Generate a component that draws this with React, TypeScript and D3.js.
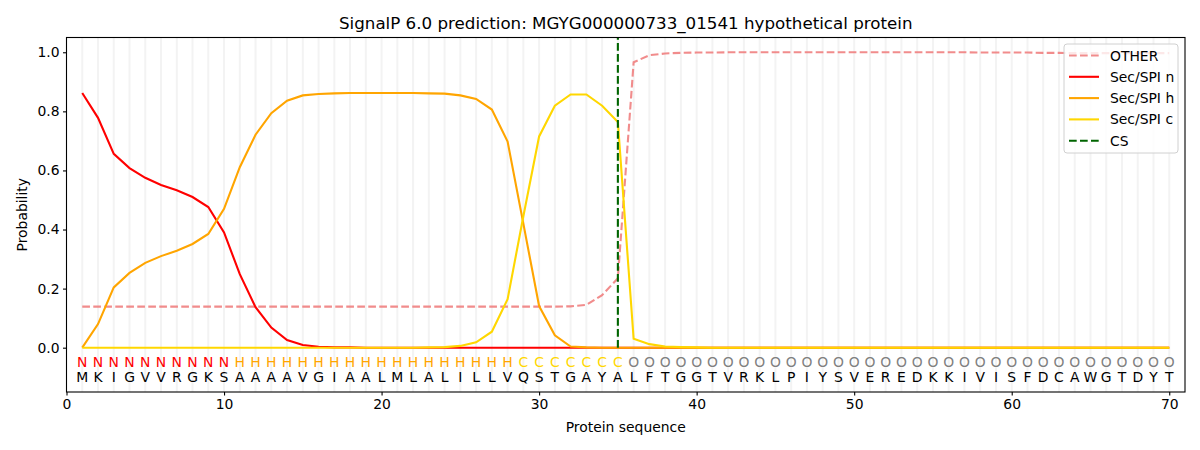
import { useEffect, useRef } from 'react';
import * as d3 from 'd3';

const sequence = 'MKIGVVRGKSAAAAVGIAALMLALILLVQSTGAYALFTGGTVRKLPIYSVEREDKKIVISFDCAWGTDYT'.split('');
const regions = 'NNNNNNNNNNHHHHHHHHHHHHHHHHHHCCCCCCCOOOOOOOOOOOOOOOOOOOOOOOOOOOOOOOOOOO'.split('');

const other = [
  0.139, 0.139, 0.139, 0.139, 0.139, 0.139, 0.139, 0.139, 0.139, 0.139,
  0.139, 0.139, 0.139, 0.139, 0.139, 0.139, 0.139, 0.139, 0.139, 0.139,
  0.139, 0.139, 0.139, 0.139, 0.139, 0.139, 0.139, 0.139, 0.139, 0.139,
  0.139, 0.14, 0.145, 0.178, 0.235, 0.966, 0.99, 0.996, 0.998, 0.999,
  0.999, 1.0, 1.0, 1.0, 1.0, 1.0, 1.0, 1.0, 1.0, 1.0,
  1.0, 1.0, 1.0, 1.0, 1.0, 1.0, 1.0, 0.999, 0.999, 0.999,
  0.999, 0.998, 0.998, 0.997, 0.997, 0.997, 0.997, 0.997, 0.997, 0.997,
];
const secN = [
  0.862, 0.778, 0.656, 0.608, 0.575, 0.551, 0.533, 0.51, 0.476, 0.39,
  0.249, 0.137, 0.068, 0.026, 0.009, 0.003, 0.001, 0.001, 0, 0,
  0, 0, 0, 0, 0, 0, 0, 0, 0, 0,
  0, 0, 0, 0, 0, 0, 0, 0, 0, 0,
  0, 0, 0, 0, 0, 0, 0, 0, 0, 0,
  0, 0, 0, 0, 0, 0, 0, 0, 0, 0,
  0, 0, 0, 0, 0, 0, 0, 0, 0, 0,
];
const secH = [
  0.0, 0.08, 0.204, 0.253, 0.287, 0.31, 0.328, 0.351, 0.385, 0.47,
  0.611, 0.721, 0.794, 0.836, 0.854, 0.859, 0.861, 0.862, 0.862, 0.862,
  0.862, 0.862, 0.861, 0.86, 0.854, 0.842, 0.806, 0.698, 0.42, 0.141,
  0.042, 0.004, 0.001, 0, 0, 0, 0, 0, 0, 0,
  0, 0, 0, 0, 0, 0, 0, 0, 0, 0,
  0, 0, 0, 0, 0, 0, 0, 0, 0, 0,
  0, 0, 0, 0, 0, 0, 0, 0, 0, 0,
];
const secC = [
  0, 0, 0, 0, 0, 0, 0, 0, 0, 0,
  0, 0, 0, 0, 0, 0, 0, 0, 0, 0,
  0, 0, 0.001, 0.002, 0.006, 0.018, 0.054, 0.164, 0.445, 0.715,
  0.819, 0.857, 0.857, 0.819, 0.764, 0.03, 0.012, 0.004, 0.002, 0.001,
  0, 0, 0, 0, 0, 0, 0, 0, 0, 0,
  0, 0, 0, 0, 0, 0, 0, 0, 0, 0,
  0, 0, 0, 0, 0, 0, 0, 0, 0, 0,
];
const cleavageSite = 35;
const yTicks = [0, 0.2, 0.4, 0.6, 0.8, 1.0];
const xTicks = [0, 10, 20, 30, 40, 50, 60, 70];

const regionColor: Record<string, string> = { N: 'red', H: 'orange', C: 'gold', O: 'grey' };

const series = [
  { name: 'OTHER', values: other, color: 'lightcoral', dash: '7.7,3.3' },
  { name: 'Sec/SPI n', values: secN, color: 'red', dash: '' },
  { name: 'Sec/SPI h', values: secH, color: 'orange', dash: '' },
  { name: 'Sec/SPI c', values: secC, color: 'gold', dash: '' },
];

export default function App() {
  const svgRef = useRef<SVGSVGElement>(null);
  const width = 1200;
  const height = 450;

  useEffect(() => {
    if (!svgRef.current) return;
    const svg = d3.select(svgRef.current);
    svg.selectAll('*').remove();

    const margin = { top: 37.5, right: 15, bottom: 58, left: 66.5 };
    const x = d3.scaleLinear().domain([0, 71]).range([margin.left, width - margin.right]);
    const y = d3.scaleLinear().domain([-0.15, 1.05]).range([height - margin.bottom, margin.top]);
    const font = 'DejaVu Sans, sans-serif';

    svg.append('rect').attr('width', width).attr('height', height).attr('fill', '#fff');

    // grid per residue
    svg.append('g')
      .selectAll('line')
      .data(d3.range(1, sequence.length + 1))
      .enter()
      .append('line')
      .attr('x1', d => x(d)).attr('x2', d => x(d))
      .attr('y1', y.range()[0]).attr('y2', y.range()[1])
      .attr('stroke', '#f3f3f3')
      .attr('stroke-width', 2);

    const line = d3.line<number>()
      .x((_, i) => x(i + 1))
      .y(d => y(d));

    series.forEach(s => {
      svg.append('path')
        .datum(s.values)
        .attr('d', line)
        .attr('fill', 'none')
        .attr('stroke', s.color)
        .attr('stroke-width', 2.1)
        .attr('stroke-dasharray', s.dash || null)
        .attr('opacity', s.name === 'OTHER' ? 0.9 : 1);
    });

    // cleavage site
    svg.append('line')
      .attr('x1', x(cleavageSite)).attr('x2', x(cleavageSite))
      .attr('y1', y(0)).attr('y2', y(1.05))
      .attr('stroke', 'darkgreen')
      .attr('stroke-width', 2.1)
      .attr('stroke-dasharray', '7.7,3.3');

    // residue labels
    const labels = svg.append('g').attr('font-family', font).attr('font-size', 13.9).attr('text-anchor', 'middle');
    regions.forEach((r, i) => {
      labels.append('text')
        .attr('x', x(i + 1)).attr('y', y(-0.05))
        .attr('dy', '0.36em')
        .attr('fill', regionColor[r])
        .text(r);
    });
    sequence.forEach((a, i) => {
      labels.append('text')
        .attr('x', x(i + 1)).attr('y', y(-0.1))
        .attr('dy', '0.36em')
        .attr('fill', '#000')
        .text(a);
    });

    // axes
    const xAxis = svg.append('g')
      .attr('transform', `translate(0,${y.range()[0]})`)
      .call(d3.axisBottom(x).tickValues(xTicks).tickSize(3.5).tickPadding(3.5).tickFormat(d3.format('d')));
    const yAxis = svg.append('g')
      .attr('transform', `translate(${margin.left},0)`)
      .call(d3.axisLeft(y).tickValues(yTicks).tickSize(3.5).tickPadding(3.5).tickFormat(d3.format('.1f')));
    [xAxis, yAxis].forEach(a => {
      a.select('.domain').remove();
      a.selectAll('text').attr('font-family', font).attr('font-size', 13.9).attr('fill', '#000');
      a.selectAll('line').attr('stroke', '#000').attr('stroke-width', 1.1);
    });

    svg.append('rect')
      .attr('x', x.range()[0]).attr('y', y.range()[1])
      .attr('width', x.range()[1] - x.range()[0])
      .attr('height', y.range()[0] - y.range()[1])
      .attr('fill', 'none')
      .attr('stroke', '#000')
      .attr('stroke-width', 1.1);

    // titles
    svg.append('text')
      .attr('x', (x.range()[0] + x.range()[1]) / 2).attr('y', 29)
      .attr('text-anchor', 'middle')
      .attr('font-family', font).attr('font-size', 16.7)
      .text('SignalP 6.0 prediction: MGYG000000733_01541 hypothetical protein');
    svg.append('text')
      .attr('x', (x.range()[0] + x.range()[1]) / 2).attr('y', 432)
      .attr('text-anchor', 'middle')
      .attr('font-family', font).attr('font-size', 13.9)
      .text('Protein sequence');
    svg.append('text')
      .attr('transform', `translate(27,${(y.range()[0] + y.range()[1]) / 2}) rotate(-90)`)
      .attr('text-anchor', 'middle')
      .attr('font-family', font).attr('font-size', 13.9)
      .text('Probability');

    // legend
    const legendItems = [...series, { name: 'CS', color: 'darkgreen', dash: '7.7,3.3' }];
    const lg = svg.append('g').attr('transform', 'translate(1064,44)');
    lg.append('rect')
      .attr('width', 114).attr('height', 109).attr('rx', 3)
      .attr('fill', 'rgba(255,255,255,0.8)')
      .attr('stroke', '#d0d0d0').attr('stroke-width', 1);
    legendItems.forEach((s, i) => {
      const cy = 11.5 + i * 21.3;
      lg.append('line')
        .attr('x1', 5).attr('x2', 35).attr('y1', cy).attr('y2', cy)
        .attr('stroke', s.color).attr('stroke-width', 2.1)
        .attr('stroke-dasharray', s.dash || null)
        .attr('opacity', s.name === 'OTHER' ? 0.9 : 1);
      lg.append('text')
        .attr('x', 46).attr('y', cy).attr('dy', '0.36em')
        .attr('font-family', font).attr('font-size', 13.9)
        .text(s.name);
    });
  }, []);

  return <svg ref={svgRef} width={width} height={height} style={{ display: 'block', margin: -8 }} />;
}
